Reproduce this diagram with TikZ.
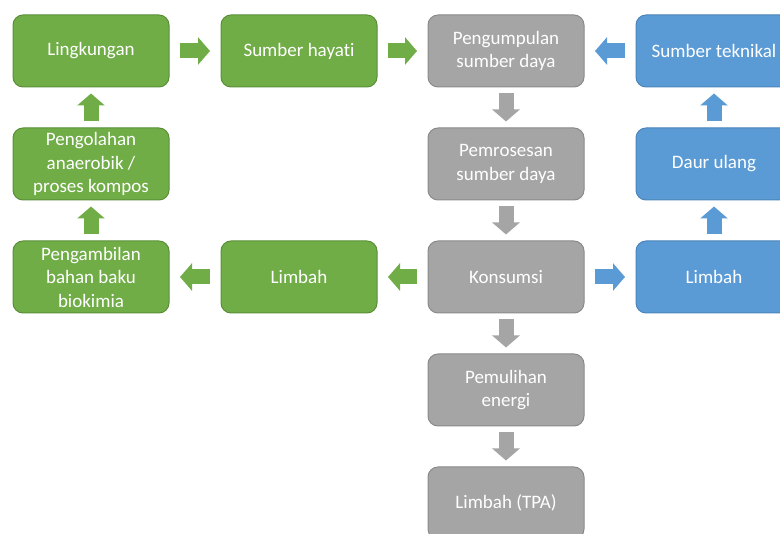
\documentclass[tikz,border=0pt]{standalone}
\usepackage{fontspec}
\setmainfont{Carlito}[Ligatures=NoCommon]
\usepackage{xcolor}
\usepackage{tikz}
\usetikzlibrary{arrows.meta,positioning}
\definecolor{cBio}{HTML}{70AD47}
\definecolor{cBioLine}{HTML}{5A8F38}
\definecolor{cUse}{HTML}{A5A5A5}
\definecolor{cUseLine}{HTML}{8A8A8A}
\definecolor{cTech}{HTML}{5B9BD5}
\definecolor{cTechLine}{HTML}{4A84B8}
\tikzset{
  box/.style    = {rounded corners=10pt, align=center, text=white, line width=1pt,
                   minimum width=156pt, minimum height=72pt, inner sep=2pt, outer sep=0pt,
                   font=\fontsize{19}{23.5}\selectfont},
  bio/.style    = {box, draw=cBioLine, fill=cBio},
  use/.style    = {box, draw=cUseLine, fill=cUse},
  tech/.style   = {box, draw=cTechLine, fill=cTech},
  blk/.style    = {line width=15pt, -{Triangle[length=12pt,width=27pt]}},
  hblk/.style   = {blk, shorten <=11pt, shorten >=11pt},
  vblk/.style   = {blk, shorten <=6.5pt, shorten >=6.5pt},
}
\begin{document}
\begin{tikzpicture}[x=1pt, y=1pt, node distance=41pt and 52pt]
  \clip (0,0) rectangle (780,-534);
  % biological cycle
  \node[bio] (ling) at (91,-51) {Lingkungan};
  \node[bio, right=of ling] (hayati) {Sumber hayati};
  \node[bio, below=of ling] (olah) {Pengolahan\\anaerobik /\\proses kompos};
  \node[bio, below=of olah] (ambil) {Pengambilan\\bahan baku\\biokimia};
  \node[bio, right=of ambil] (limbio) {Limbah};
  % main chain
  \node[use, right=51pt of hayati] (kumpul) {Pengumpulan\\sumber daya};
  \node[use, below=of kumpul] (proses) {Pemrosesan\\sumber daya};
  \node[use, below=of proses] (konsumsi) {Konsumsi};
  \node[use, below=of konsumsi] (pulih) {Pemulihan\\energi};
  \node[use, below=of pulih] (tpa) {Limbah (TPA)};
  % technical cycle
  \node[tech, right=of kumpul] (teknik) {Sumber teknikal};
  \node[tech, below=of teknik] (daur) {Daur ulang};
  \node[tech, below=of daur] (limtek) {Limbah};
  % block arrows
  \draw[hblk, cBio] (ling) -- (hayati);
  \draw[hblk, cBio] (hayati) -- (kumpul);
  \draw[hblk, cBio] (konsumsi) -- (limbio);
  \draw[hblk, cBio] (limbio) -- (ambil);
  \draw[vblk, cBio] (ambil) -- (olah);
  \draw[vblk, cBio] (olah) -- (ling);
  \draw[vblk, cUse] (kumpul) -- (proses);
  \draw[vblk, cUse] (proses) -- (konsumsi);
  \draw[vblk, cUse] (konsumsi) -- (pulih);
  \draw[vblk, cUse] (pulih) -- (tpa);
  \draw[hblk, cTech] (teknik) -- (kumpul);
  \draw[hblk, cTech] (konsumsi) -- (limtek);
  \draw[vblk, cTech] (limtek) -- (daur);
  \draw[vblk, cTech] (daur) -- (teknik);
\end{tikzpicture}
\end{document}
